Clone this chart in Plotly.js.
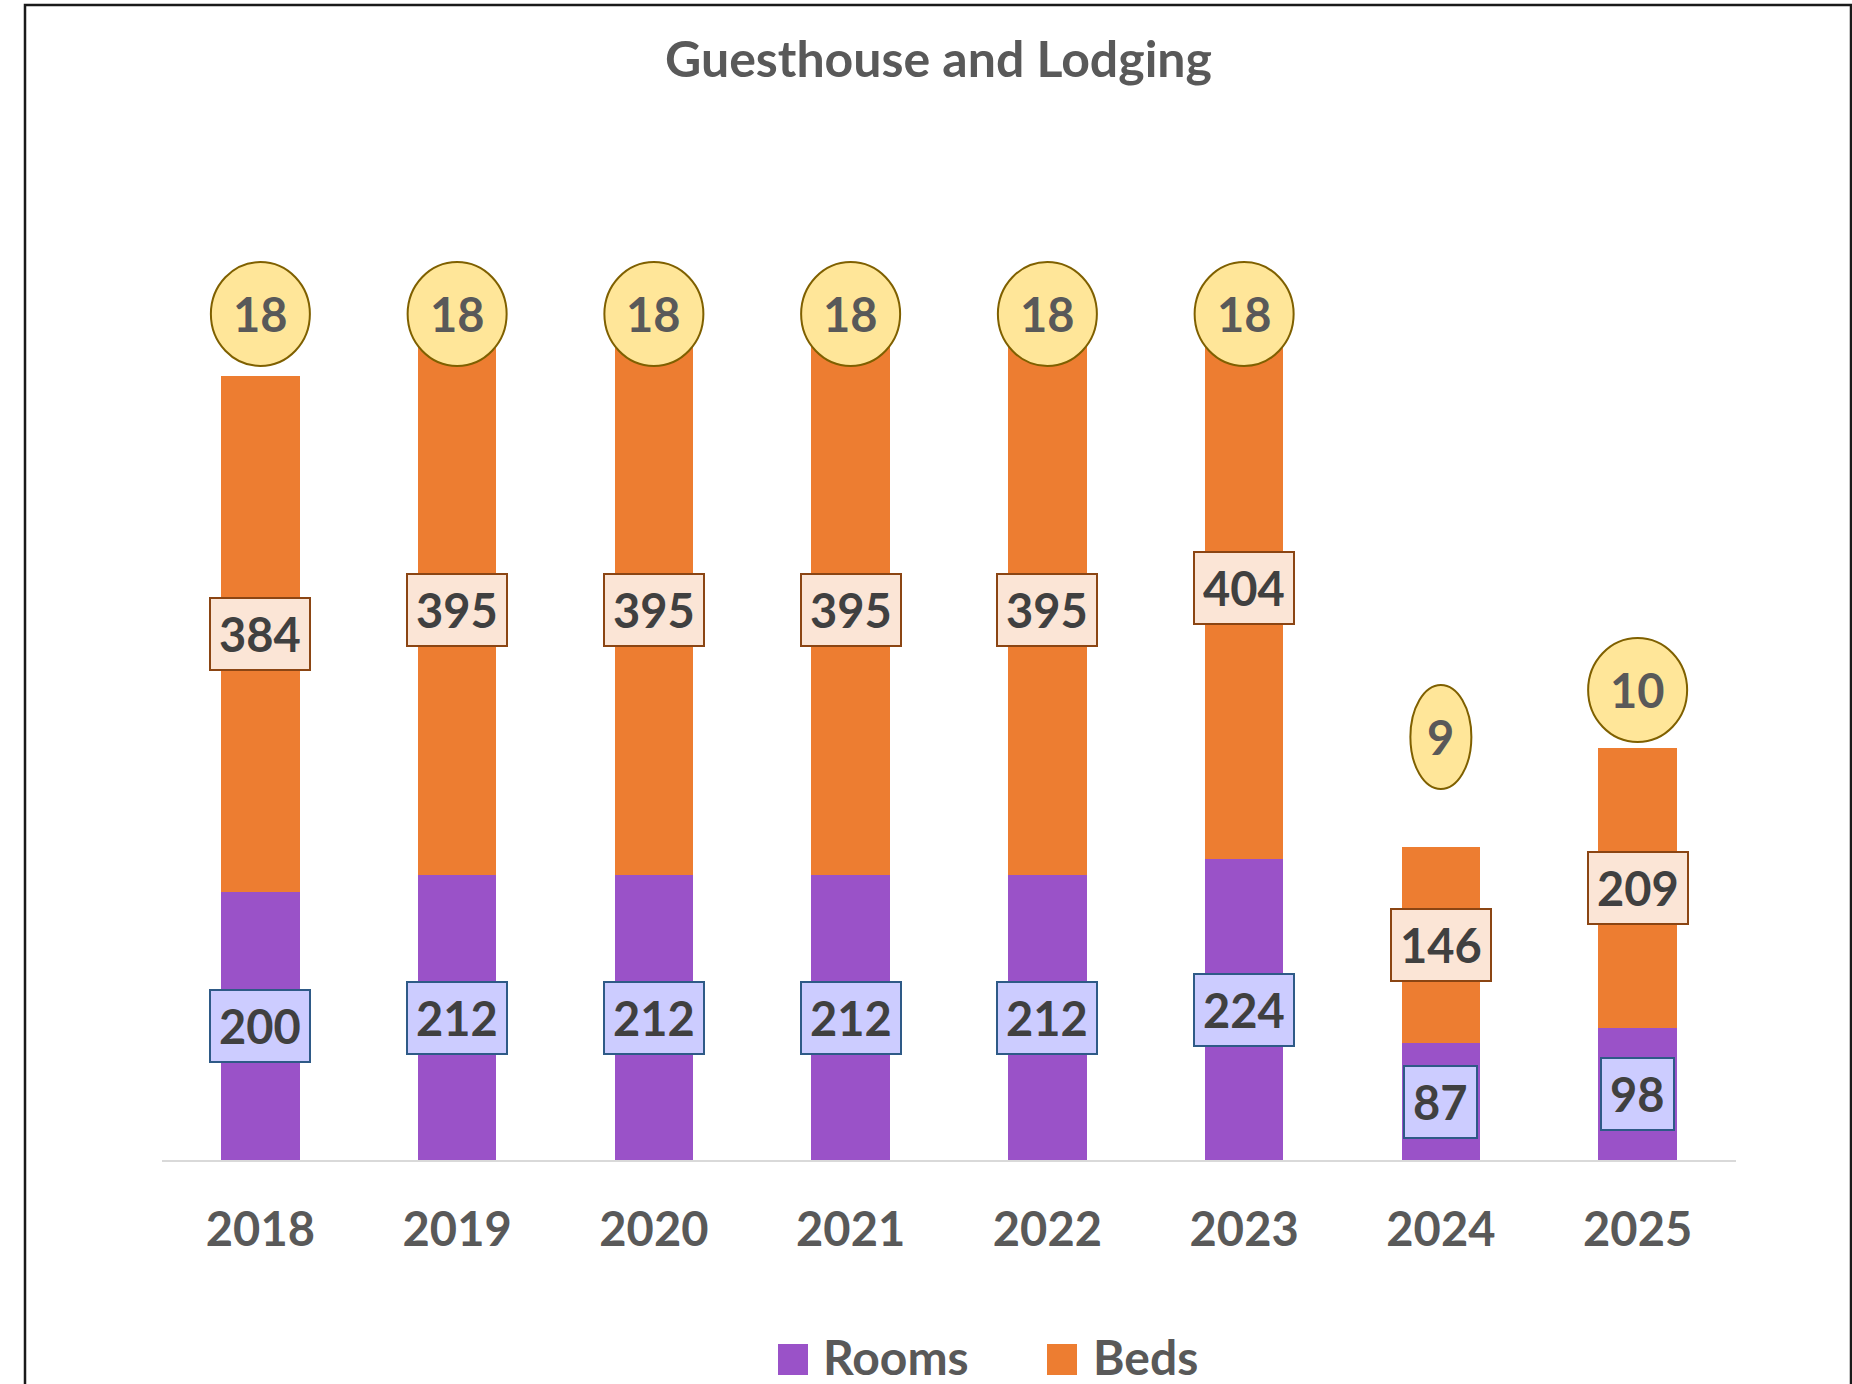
<!DOCTYPE html>
<html>
<head>
<meta charset="utf-8">
<script src="https://cdn.plot.ly/plotly-3.0.1.min.js"></script>
<style>html,body{margin:0;padding:0;background:#fff;}#chart{width:1852px;height:1384px;}</style>
</head>
<body>
<div id="chart"></div>
<script>
// ---- data ----
const years = ['2018','2019','2020','2021','2022','2023','2024','2025'];
const rooms = [200, 212, 212, 212, 212, 224, 87, 98];
const beds = [384, 395, 395, 395, 395, 404, 146, 209];
const guesthouses = [18, 18, 18, 18, 18, 18, 9, 10];
const seriesNames = ['Rooms', 'Beds'];
const chartTitle = 'Guesthouse and Lodging';

// ---- style ----
const W = 1852, H = 1384;
const M = {l: 162, r: 116, t: 160, b: 224};
const PW = W - M.l - M.r, PH = H - M.t - M.b;
const FONT = 'Lato, "Open Sans", sans-serif';
const purple = '#9A52C8', orange = '#ED7D31';
const px2x = p => (p - M.l) / PW;
const py2y = p => (H - M.b - p) / PH;

const traces = [
  {type: 'bar', x: years, y: rooms, name: seriesNames[0], marker: {color: purple}, hoverinfo: 'skip'},
  {type: 'bar', x: years, y: beds, name: seriesNames[1], marker: {color: orange}, hoverinfo: 'skip'},
  {type: 'scatter', mode: 'none', x: years, y: guesthouses, yaxis: 'y2', showlegend: false, hoverinfo: 'skip'}
];

const annotations = [];
const shapes = [];
years.forEach((yr, i) => {
  annotations.push({
    x: i, y: rooms[i] / 2, xref: 'x', yref: 'y', text: String(rooms[i]), showarrow: false,
    font: {family: FONT, size: 47, color: '#404040', weight: 'bold'},
    bgcolor: '#CCCCFF', bordercolor: '#2E5A87', borderwidth: 2, borderpad: 8, height: 54
  });
  annotations.push({
    x: i, y: rooms[i] + beds[i] / 2, xref: 'x', yref: 'y', text: String(beds[i]), showarrow: false,
    font: {family: FONT, size: 47, color: '#404040', weight: 'bold'},
    bgcolor: '#FBE5D6', bordercolor: '#8B4513', borderwidth: 2, borderpad: 8, height: 54
  });
  const w = String(guesthouses[i]).length === 1 ? 61 : 99;
  shapes.push({
    type: 'circle', xref: 'x', yref: 'y2', xsizemode: 'pixel', ysizemode: 'pixel',
    xanchor: i, yanchor: guesthouses[i], x0: -w / 2, x1: w / 2, y0: -52, y1: 52,
    fillcolor: '#FFE699', line: {color: '#7F6000', width: 2}, layer: 'above'
  });
  annotations.push({
    x: i, y: guesthouses[i], xref: 'x', yref: 'y2', text: String(guesthouses[i]), showarrow: false,
    font: {family: FONT, size: 47, color: '#595959', weight: 'bold'}
  });
});

// chart border
shapes.push({type: 'rect', xref: 'paper', yref: 'paper', x0: px2x(25), x1: px2x(1851), y0: py2y(1450), y1: py2y(5),
  line: {color: '#1a1a1a', width: 2.5}, fillcolor: 'rgba(0,0,0,0)', layer: 'below'});

// custom legend
const legColors = [purple, orange];
const legSq = [778, 1047];
const legTx = [822, 1092];
seriesNames.forEach((n, k) => {
  shapes.push({type: 'rect', xref: 'paper', yref: 'paper', x0: px2x(legSq[k]), x1: px2x(legSq[k] + 30),
    y0: py2y(1375), y1: py2y(1344), fillcolor: legColors[k], line: {width: 0}});
  annotations.push({xref: 'paper', yref: 'paper', x: px2x(legTx[k]), y: py2y(1356), xanchor: 'left', yanchor: 'middle',
    text: n, showarrow: false, height: 46, valign: 'middle', borderpad: 0,
    font: {family: FONT, size: 48, color: '#595959', weight: 'bold'}});
});

const layout = {
  width: W, height: H, margin: M, paper_bgcolor: '#fff', plot_bgcolor: '#fff',
  barmode: 'stack', bargap: 0.6, showlegend: false,
  title: {text: chartTitle, xref: 'container', x: (668 + 1209) / 2 / W, y: 1 - 59 / H, yanchor: 'middle',
    font: {family: FONT, size: 50, color: '#595959', weight: 'bold'}},
  xaxis: {type: 'category', showline: true, linecolor: '#D9D9D9', linewidth: 2, showgrid: false, zeroline: false,
    ticks: 'outside', ticklen: 28, tickcolor: 'rgba(0,0,0,0)',
    tickfont: {family: FONT, size: 47, color: '#595959', weight: 'bold'}},
  yaxis: {range: [0, PH / 1.3425], visible: false, showgrid: false, zeroline: false, fixedrange: true},
  yaxis2: {range: [0, PH / 47], overlaying: 'y', visible: false, showgrid: false, zeroline: false},
  annotations: annotations, shapes: shapes
};

Plotly.newPlot('chart', traces, layout, {displayModeBar: false, staticPlot: true});
</script>
</body>
</html>
